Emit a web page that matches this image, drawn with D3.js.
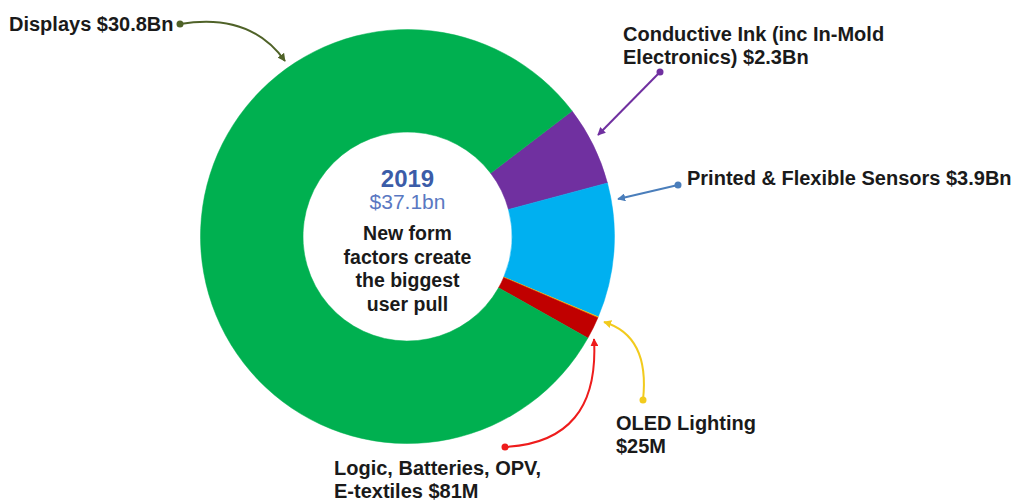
<!DOCTYPE html>
<html>
<head>
<meta charset="utf-8">
<script src="https://cdn.jsdelivr.net/npm/d3@7"></script>
<style>
  html, body { margin: 0; padding: 0; background: #fff; }
  svg { display: block; font-family: "Liberation Sans", Arial, sans-serif; }
</style>
</head>
<body>
<svg id="chart"></svg>
<script>
// data (clockwise, starting at the Displays / Conductive Ink boundary)
const segments = ['Conductive Ink', 'Printed & Flexible Sensors', 'OLED Lighting', 'Logic, Batteries, OPV, E-textiles', 'Displays'];
const values = [2.3, 3.9, 0.025, 0.65, 30.24];
const colors = ['#7030a0', '#00b0f0', '#ffc000', '#c00000', '#00b050'];
const centerTitle = '2019';
const centerTotal = '$37.1bn';
const centerNote = ['New form', 'factors create', 'the biggest', 'user pull'];

// callouts: text lines, dot, arrow tip, curve control
const callouts = [
  { lines: ['Displays $30.8Bn'], x: 9, y: 31, color: '#4f6228', from: [180, 24], to: [285, 61], ctrl: [250, 12] },
  { lines: ['Conductive Ink (inc In-Mold', 'Electronics) $2.3Bn'], x: 623, y: 41, color: '#7030a0', from: [660, 72], to: [598, 135], ctrl: null },
  { lines: ['Printed & Flexible Sensors $3.9Bn'], x: 687, y: 185, color: '#4a7ebb', from: [678, 185], to: [618, 199], ctrl: null },
  { lines: ['OLED Lighting', '$25M'], x: 616, y: 430, color: '#f2cb1d', from: [643, 400], to: [604, 322], ctrl: [650, 336] },
  { lines: ['Logic, Batteries, OPV,', 'E-textiles $81M'], x: 334, y: 475, color: '#ee1c1c', from: [505, 447], to: [594, 339], ctrl: [600, 442] }
];

const width = 1011;
const height = 500;
const cx = 407.5;
const cy = 236.5;
const outerR = 207;
const innerR = 104.5;

const svg = d3.select('#chart')
  .attr('width', width)
  .attr('height', height);

// donut
const pie = d3.pie()
  .sort(null)
  .value(d => d)
  .startAngle(52.7 * Math.PI / 180)
  .endAngle(52.7 * Math.PI / 180 + 2 * Math.PI);

const arc = d3.arc()
  .innerRadius(innerR)
  .outerRadius(outerR);

const donut = svg.append('g')
  .attr('transform', `translate(${cx}, ${cy})`);

donut.selectAll('path')
  .data(pie(values))
  .enter()
  .append('path')
  .attr('d', arc)
  .attr('fill', (d, i) => colors[i])
  .attr('stroke', (d, i) => colors[i])
  .attr('stroke-width', 0.5);

// center text
donut.append('text')
  .attr('text-anchor', 'middle')
  .attr('y', -50)
  .attr('font-size', 24)
  .attr('font-weight', 'bold')
  .attr('fill', '#3b5ca8')
  .text(centerTitle);

donut.append('text')
  .attr('text-anchor', 'middle')
  .attr('y', -27.5)
  .attr('font-size', 21)
  .attr('fill', '#5a78c2')
  .text(centerTotal);

donut.append('text')
  .attr('text-anchor', 'middle')
  .attr('font-size', 19.5)
  .attr('font-weight', 'bold')
  .attr('fill', '#1a1a1a')
  .selectAll('tspan')
  .data(centerNote)
  .enter()
  .append('tspan')
  .attr('x', 0)
  .attr('y', (d, i) => 3.5 + i * 23.5)
  .text(d => d);

// arrows
const defs = svg.append('defs');
callouts.forEach((c, i) => {
  defs.append('marker')
    .attr('id', 'arrow' + i)
    .attr('viewBox', '0 0 10 10')
    .attr('refX', 9)
    .attr('refY', 5)
    .attr('markerWidth', 4)
    .attr('markerHeight', 4)
    .attr('orient', 'auto')
    .append('path')
    .attr('d', 'M0,0 L10,5 L0,10 z')
    .attr('fill', c.color);
});

const links = svg.append('g');
callouts.forEach((c, i) => {
  const p = d3.path();
  p.moveTo(c.from[0], c.from[1]);
  if (c.ctrl) p.quadraticCurveTo(c.ctrl[0], c.ctrl[1], c.to[0], c.to[1]);
  else p.lineTo(c.to[0], c.to[1]);

  links.append('path')
    .attr('d', p.toString())
    .attr('fill', 'none')
    .attr('stroke', c.color)
    .attr('stroke-width', 2)
    .attr('marker-end', `url(#arrow${i})`);

  links.append('circle')
    .attr('cx', c.from[0])
    .attr('cy', c.from[1])
    .attr('r', 3.5)
    .attr('fill', c.color);
});

// labels
const labels = svg.append('g');
callouts.forEach(c => {
  labels.append('text')
    .attr('font-size', 20)
    .attr('font-weight', 'bold')
    .attr('fill', '#1a1a1a')
    .selectAll('tspan')
    .data(c.lines)
    .enter()
    .append('tspan')
    .attr('x', c.x)
    .attr('y', (d, i) => c.y + i * 22.5)
    .text(d => d);
});
</script>
</body>
</html>
